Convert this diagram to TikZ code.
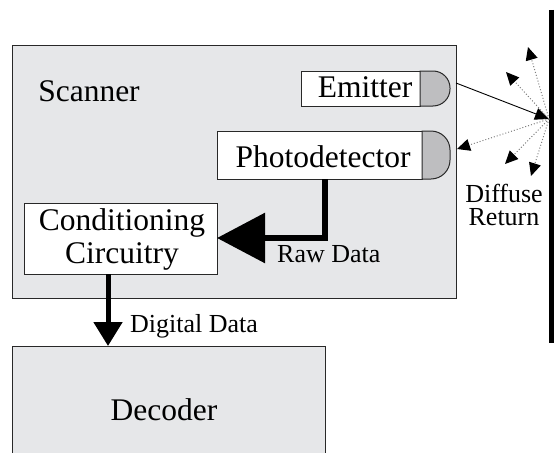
\documentclass[tikz,border=0pt]{standalone}
\usepackage{fontspec}
\setmainfont{Liberation Serif}
\usetikzlibrary{arrows.meta}
\definecolor{panel}{RGB}{230,231,233}
\definecolor{lens}{RGB}{190,190,192}
\definecolor{edge}{RGB}{40,40,40}
\begin{document}
\begin{tikzpicture}[x=1pt,y=-1pt,
  big/.style={font=\fontsize{31.5}{33}\selectfont, inner sep=0pt},
  small/.style={font=\fontsize{26}{23}\selectfont, inner sep=0pt, align=center},
  box/.style={draw=edge, line width=1pt, inner sep=0pt, outer sep=0pt, anchor=north west},
  wbox/.style={box, fill=white},
  panelbox/.style={box, fill=panel},
  lensst/.style={draw=edge, line width=1pt, fill=lens},
  bus/.style={line width=6pt, -{Triangle[length=48pt,width=49pt]}},
  dbus/.style={line width=5pt, -{Triangle[length=24pt,width=28pt]}},
  beam/.style={line width=0.9pt, -{Triangle[length=14pt,width=12pt]}},
  scatter/.style={draw=gray, line width=1pt, dotted, -{Triangle[length=13pt,width=12pt,color=black,fill=black]}},
]
\useasboundingbox (0,0) rectangle (556,452);

% Scanner panel
\node[panelbox, minimum width=444pt, minimum height=252pt] (scan) at (12,46) {};
\node[big, anchor=base] (scanlbl) at (89,101) {Scanner};

% Decoder panel (runs off the bottom)
\node[panelbox, minimum width=313pt, minimum height=130pt] (dec) at (12,346) {};
\node[big, anchor=base] (declbl) at (164,420) {Decoder};

% Emitter
\node[wbox, minimum width=119pt, minimum height=35pt] (emit) at (301,71) {};
\node[big, anchor=base] (emitlbl) at (365,97) {Emitter};
\draw[lensst] (emit.north east) [rounded corners=17pt] -- ++(30,0) -- ++(0,35) [sharp corners] -- (emit.south east) -- cycle;

% Photodetector
\node[wbox, minimum width=205pt, minimum height=48pt] (photo) at (217,131) {};
\node[big, anchor=base] (photolbl) at (323,167) {Photodetector};
\draw[lensst] (photo.north east) [rounded corners=19pt] -- ++(28,0) -- ++(0,48) [sharp corners] -- (photo.south east) -- cycle;

% Conditioning circuitry
\node[wbox, minimum width=193pt, minimum height=71pt] (cond) at (24,203) {};
\node[big, anchor=base, align=center] (condlbl) at (122,263) {Conditioning\\Circuitry};

% Raw data bus
\coordinate (rd) at (325,238);
\draw[bus] (photo.south -| rd) -- (rd) -- (cond.east |- rd);
\node[small, anchor=base west] (rawlbl) at (277,262) {Raw Data};

% Digital data bus
\coordinate (dd) at (108,310);
\draw[dbus] (cond.south -| dd) -- (dec.north -| dd);
\node[small, anchor=base west] (diglbl) at (130,332) {Digital Data};

% Target wall
\coordinate (walltop) at (551.5,10);
\coordinate (wallbot) at (551.5,343);
\draw[line width=4.5pt] (walltop) -- (wallbot);

% Beam and diffuse return
\coordinate (src) at (456,83);
\coordinate (hit) at (549,119);
\draw[beam] (src) -- (hit);
\coordinate (t1) at (528,47);
\coordinate (t2) at (506,72);
\coordinate (t3) at (457,149);
\coordinate (t4) at (505,164);
\coordinate (t5) at (531,176);
\foreach \t in {t1,t2,t3,t4,t5}
  \draw[scatter] (hit) -- (\t);
\node[small, anchor=base] (difflbl) at (504,225) {Diffuse\\Return};
\end{tikzpicture}
\end{document}
